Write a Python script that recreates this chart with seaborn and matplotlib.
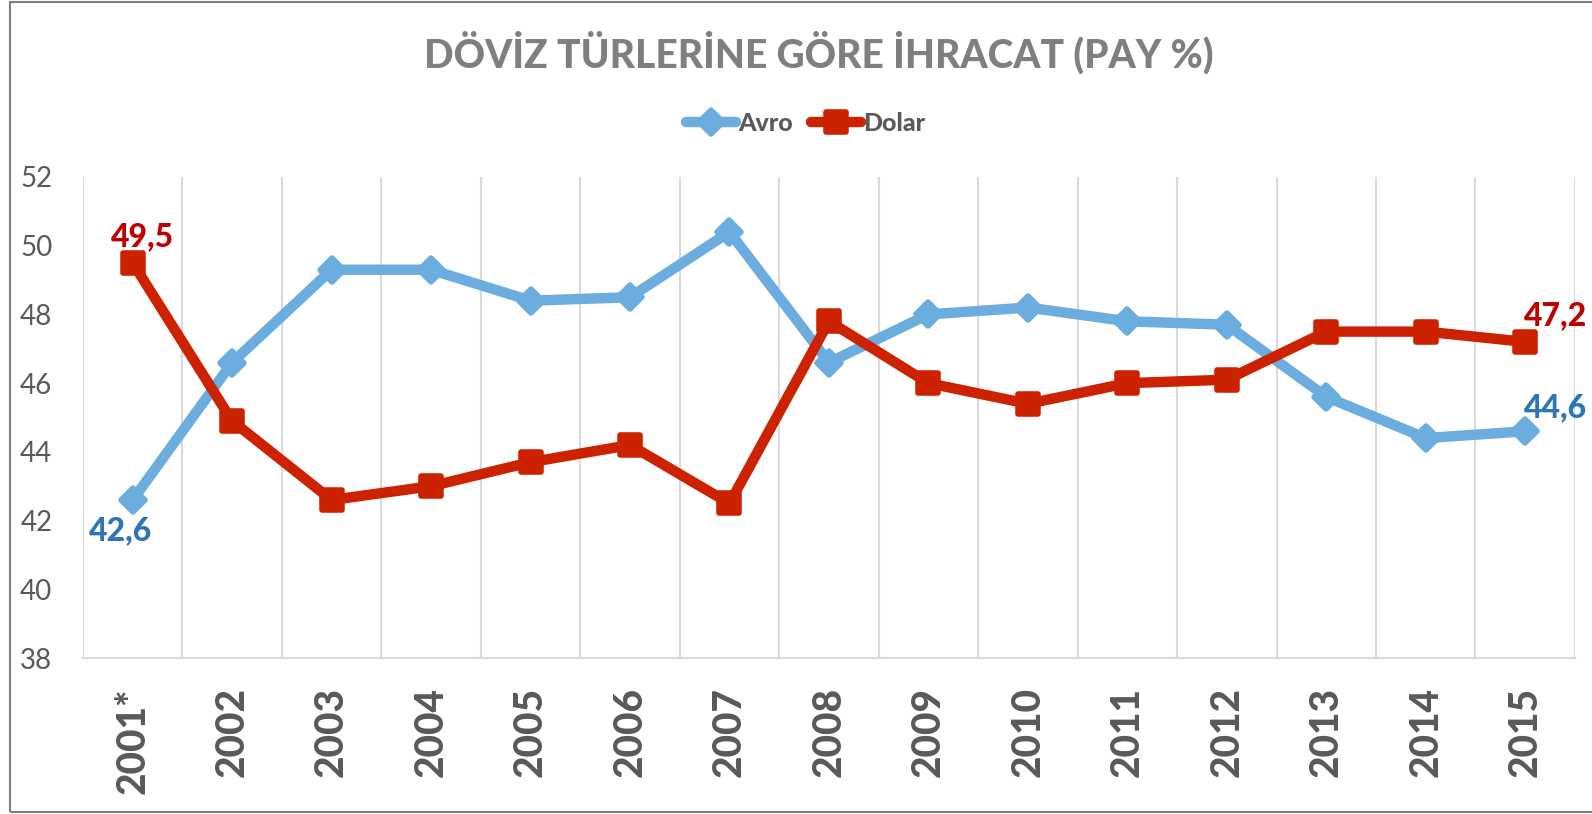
import matplotlib
matplotlib.use("Agg")
import matplotlib.pyplot as plt
from matplotlib.markers import MarkerStyle
from matplotlib.lines import Line2D
from matplotlib.patches import Rectangle
import seaborn as sns
import pandas as pd

years = ["2001*", "2002", "2003", "2004", "2005", "2006", "2007", "2008",
         "2009", "2010", "2011", "2012", "2013", "2014", "2015"]
avro = [42.6, 46.6, 49.3, 49.3, 48.4, 48.5, 50.4, 46.6, 48.0, 48.2, 47.8, 47.7, 45.6, 44.4, 44.6]
dolar = [49.5, 44.9, 42.6, 43.0, 43.7, 44.2, 42.5, 47.8, 46.0, 45.4, 46.0, 46.1, 47.5, 47.5, 47.2]
series_names = ["Avro", "Dolar"]
title = "DÖVİZ TÜRLERİNE GÖRE İHRACAT (PAY %)"
yticks = [38, 40, 42, 44, 46, 48, 50, 52]

c_avro = "#6CADDF"
c_dolar = "#CC2200"
c_lab_avro = "#2E75B6"
c_lab_dolar = "#C00000"
gray = "#595959"
HEAVY = 900

sns.set_theme(style="white")
plt.rcParams["font.family"] = ["Lato", "DejaVu Sans"]

df = pd.DataFrame({
    "pos": list(range(len(years))) * 2,
    "value": avro + dolar,
    "series": [series_names[0]] * len(years) + [series_names[1]] * len(years),
})

fig = plt.figure(figsize=(15.92, 8.14), dpi=100)
ax = fig.add_axes([0.0521, 0.1916, 0.9372, 0.591])

sns.lineplot(data=df, x="pos", y="value", hue="series",
             palette={"Avro": c_avro, "Dolar": c_dolar},
             linewidth=7.5, legend=False, ax=ax, sort=False)

mk = {"Avro": ("D", 12), "Dolar": ("s", 14)}
for line, name in zip(ax.lines, series_names):
    m, s = mk[name]
    line.set_marker(MarkerStyle(m, joinstyle="round"))
    line.set_markersize(s)
    line.set_markeredgewidth(4)
    line.set_markeredgecolor(line.get_color())
    line.set_markerfacecolor(line.get_color())
    line.set_solid_joinstyle("round")

ax.set_xlim(-0.5, len(years) - 0.5)
ax.set_ylim(38, 52)
ax.set_yticks(yticks)
ax.set_yticklabels([str(v) for v in yticks], fontsize=20, color=gray)
ax.set_xticks(range(len(years)))
ax.set_xticklabels(years, rotation=90, fontsize=28, fontweight=HEAVY, color=gray,
                   va="top", ha="center")
ax.tick_params(axis="x", length=0, pad=21)
ax.tick_params(axis="y", length=0, pad=22)
ax.set_xlabel("")
ax.set_ylabel("")

# vertical gridlines between categories
ax.set_xticks([i - 0.5 for i in range(len(years) + 1)], minor=True)
ax.grid(False)
ax.grid(True, which="minor", axis="x", color="#D9D9D9", linewidth=1.5)
ax.tick_params(which="minor", length=0)
for side in ["top", "right", "left"]:
    ax.spines[side].set_visible(False)
ax.spines["bottom"].set_color("#D9D9D9")
ax.spines["bottom"].set_linewidth(1.5)

# data labels
lab_kw = dict(fontsize=23, fontweight=HEAVY, textcoords="offset points", annotation_clip=False)
ax.annotate(f"{dolar[0]}".replace(".", ","), (0, dolar[0]), xytext=(7, 19),
            ha="center", va="center", color=c_lab_dolar, **lab_kw)
ax.annotate(f"{avro[0]}".replace(".", ","), (0, avro[0]), xytext=(-9, -22),
            ha="center", va="center", color=c_lab_avro, **lab_kw)
n = len(years) - 1
ax.annotate(f"{dolar[n]}".replace(".", ","), (n, dolar[n]), xytext=(-1, 19),
            ha="left", va="center", color=c_lab_dolar, **lab_kw)
ax.annotate(f"{avro[n]}".replace(".", ","), (n, avro[n]), xytext=(-1, 17),
            ha="left", va="center", color=c_lab_avro, **lab_kw)

# title and legend
fig.text(0.514, 0.935, title, ha="center", va="center", fontsize=28,
         fontweight=HEAVY, color="#7F7F7F")
handles = [
    Line2D([], [], color=c_avro, linewidth=7.5, marker=MarkerStyle("D", joinstyle="round"),
           markersize=12, markeredgewidth=4, markeredgecolor=c_avro),
    Line2D([], [], color=c_dolar, linewidth=7.5, marker=MarkerStyle("s", joinstyle="round"),
           markersize=14, markeredgewidth=4, markeredgecolor=c_dolar),
]
fig.legend(handles, series_names, loc="center", bbox_to_anchor=(0.506, 0.848), ncol=2,
           frameon=False, prop={"family": "Lato", "weight": HEAVY, "size": 18},
           labelcolor=gray, handlelength=2.0, handletextpad=0.1, columnspacing=0.7)

# outer chart frame
fig.patches.append(Rectangle((10 / 1592, 2 / 814), 1.1, 810 / 814, transform=fig.transFigure,
                             fill=False, edgecolor="#7F7F7F", linewidth=1.5))

fig.savefig("out.png", dpi=100)
